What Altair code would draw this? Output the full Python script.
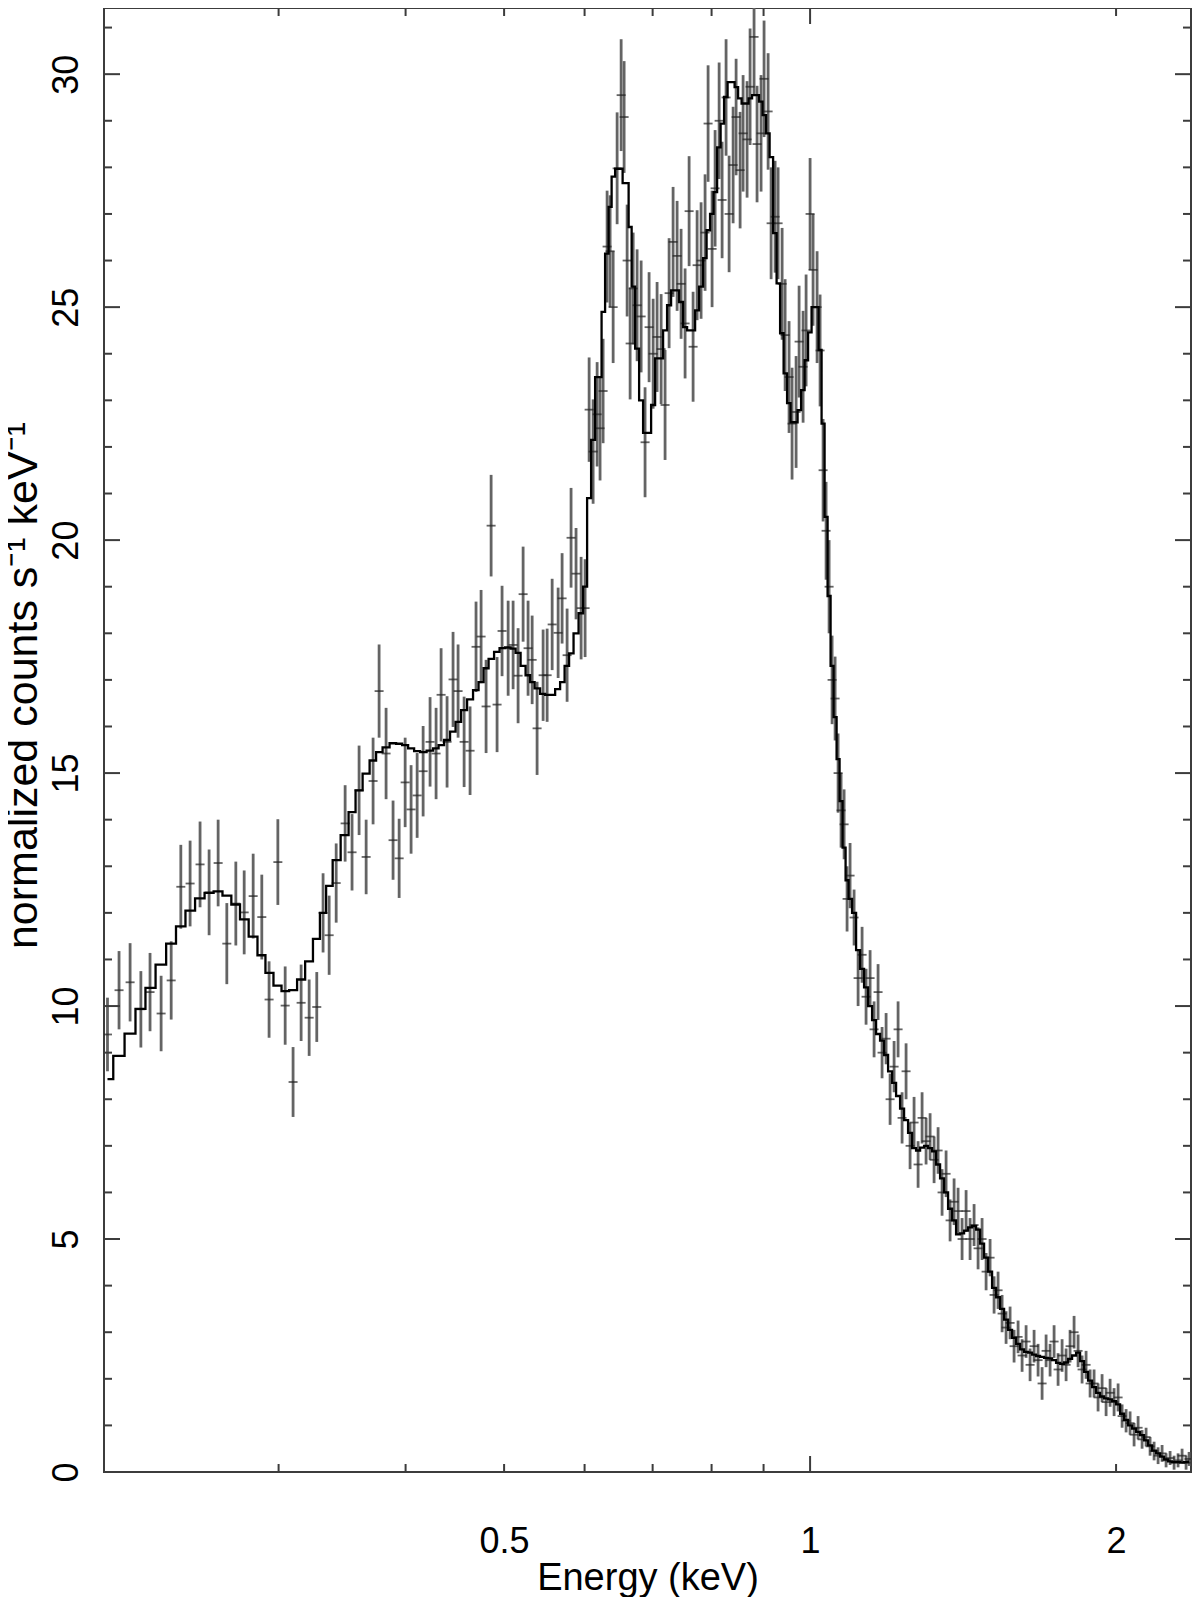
import altair as alt
import pandas as pd

# ---------------- data ----------------
ENERGY = [
    0.2036, 0.2090, 0.2143, 0.2196, 0.2242, 0.2299, 0.2352, 0.2404, 0.2455, 0.2511,
    0.2563, 0.2616, 0.2668, 0.2723, 0.2775, 0.2832, 0.2888, 0.2936, 0.2995, 0.3045,
    0.3100, 0.3157, 0.3215, 0.3271,
    0.3318, 0.3364, 0.3418, 0.3488, 0.3543, 0.3600, 0.3658, 0.3716, 0.3767, 0.3827,
    0.3888, 0.3942, 0.3996, 0.4050, 0.4106, 0.4162, 0.4228, 0.4286, 0.4335, 0.4394,
    0.4454, 0.4505, 0.4567, 0.4629, 0.4692, 0.4746, 0.4800, 0.4855, 0.4921, 0.4977,
    0.5046, 0.5103, 0.5161, 0.5220, 0.5279, 0.5328, 0.5388, 0.5462, 0.5512, 0.5575,
    0.5651, 0.5702, 0.5767, 0.5819, 0.5885, 0.5953, 0.6007,
    0.6062, 0.6117, 0.6173, 0.6214, 0.6257, 0.6314, 0.6357, 0.6401, 0.6459, 0.6518,
    0.6562, 0.6607, 0.6652, 0.6698, 0.6758, 0.6820, 0.6881, 0.6944, 0.7008, 0.7071,
    0.7136, 0.7200, 0.7266, 0.7332, 0.7399, 0.7466, 0.7534, 0.7603, 0.7672, 0.7742,
    0.7812, 0.7883, 0.7937, 0.8009, 0.8064, 0.8138, 0.8193, 0.8267, 0.8324, 0.8400,
    0.8457, 0.8534, 0.8592, 0.8670, 0.8729, 0.8808, 0.8868, 0.8949, 0.9010, 0.9093,
    0.9155, 0.9238, 0.9301, 0.9386, 0.9450, 0.9535, 0.9600, 0.9688, 0.9754, 0.9843,
    0.9910, 1.0000, 1.0068, 1.0160, 1.0229,
    1.0299, 1.0369, 1.0440, 1.0511, 1.0583, 1.0655, 1.0727, 1.0801, 1.0874, 1.0948,
    1.1048, 1.1149, 1.1250, 1.1352, 1.1456, 1.1560, 1.1665, 1.1771, 1.1879, 1.1987,
    1.2096, 1.2206, 1.2317, 1.2429, 1.2542, 1.2656, 1.2772, 1.2888, 1.3005, 1.3124,
    1.3243, 1.3364, 1.3485, 1.3608, 1.3732, 1.3857, 1.3983, 1.4110, 1.4239, 1.4368,
    1.4499, 1.4631, 1.4764, 1.4899, 1.5034, 1.5171, 1.5309, 1.5449, 1.5589, 1.5731,
    1.5874, 1.6019, 1.6165, 1.6312, 1.6460, 1.6610, 1.6761, 1.6914, 1.7068, 1.7223,
    1.7380, 1.7538, 1.7698, 1.7859, 1.8021, 1.8185, 1.8351, 1.8518, 1.8686, 1.8857,
    1.9028, 1.9201, 1.9376, 1.9553, 1.9731, 1.9910, 2.0092, 2.0275, 2.0459, 2.0645,
    2.0833, 2.1023, 2.1214, 2.1407, 2.1602, 2.1799, 2.1997, 2.2197, 2.2399, 2.2603,
    2.2809, 2.3016, 2.3226, 2.3437, 2.3597,
]

COUNTS = [
    9.39, 10.34, 10.51, 9.93, 10.30, 9.84, 10.55, 12.56, 12.63, 13.04,
    12.44, 13.07, 11.34, 12.20, 12.01, 12.36, 11.91, 10.14, 13.09, 10.01,
    8.37, 10.07, 9.75, 9.98,
    12.00, 11.52, 12.64, 13.92, 13.30, 14.63, 13.20, 14.83, 16.76, 15.42,
    13.56, 13.17, 14.80, 14.22, 14.52, 15.04, 15.67, 15.42, 16.68, 15.67,
    17.01, 16.76, 15.67, 15.48, 17.71, 17.93, 16.43, 20.31, 16.47, 18.05,
    17.68, 17.75, 17.09, 18.84, 17.68, 17.43, 15.96, 17.10, 17.10, 18.19,
    18.01, 18.75, 17.53, 20.05, 19.28, 18.54, 18.54,
    22.80, 21.90, 22.70, 22.40, 23.20, 26.30, 26.20, 25.00, 27.98, 29.55,
    29.08, 26.00, 24.22, 25.40, 25.04, 24.80, 22.10, 24.57, 24.00, 24.36,
    24.10, 22.90, 25.30, 26.40, 26.10, 25.50, 24.65, 27.06, 24.15, 25.90,
    26.00, 26.60, 28.94, 26.25, 27.55, 29.00, 27.30, 29.50, 27.00, 28.05,
    29.08, 27.94, 28.73, 28.60, 29.73, 30.80, 28.50, 28.73, 29.90, 29.20,
    26.80, 26.94, 26.80, 25.50, 24.40, 23.50, 22.50, 22.75, 24.26, 23.72,
    24.50, 27.00, 25.80, 25.00, 24.07,
    21.50, 20.20, 19.00, 17.00, 16.60, 15.00, 14.20, 13.90, 12.30, 12.80,
    11.90, 10.60, 11.10, 10.20, 10.60, 9.50, 10.30, 9.00, 9.30, 8.00,
    8.70, 9.50, 7.60, 8.60, 7.00, 7.50, 6.60, 7.60, 7.10, 7.20,
    6.70, 6.90, 6.00, 6.40, 5.40, 5.80, 5.60, 5.00, 5.60, 5.00,
    5.30, 4.80, 5.00, 4.30, 4.60, 3.80, 3.90, 3.40, 3.10, 3.20,
    2.70, 2.90, 2.50, 2.80, 2.30, 2.70, 2.40, 1.90, 2.60, 2.40,
    2.80, 2.20, 2.50, 2.30, 2.70, 3.00, 2.60, 2.20, 2.30, 1.90,
    1.90, 1.60, 1.80, 1.50, 1.70, 1.50, 1.60, 1.20, 1.10, 1.05,
    0.80, 0.95, 0.70, 0.75, 0.55, 0.45, 0.35, 0.40, 0.25, 0.30,
    0.20, 0.25, 0.35, 0.20, 0.28,
]

ERRORS = [
    0.79, 0.84, 0.84, 0.82, 0.84, 0.81, 0.84, 0.90, 0.92, 0.92,
    0.92, 0.93, 0.87, 0.90, 0.90, 0.91, 0.91, 0.82, 0.92, 0.84,
    0.75, 0.82, 0.82, 0.75,
    0.85, 0.85, 0.85, 0.82, 0.82, 0.96, 0.80, 0.93, 1.00, 0.98,
    0.85, 0.85, 0.96, 0.95, 0.91, 0.97, 0.96, 0.98, 1.00, 0.98,
    1.02, 1.00, 0.97, 0.95, 0.97, 1.00, 1.00, 1.09, 1.02, 0.97,
    1.02, 0.95, 1.02, 1.02, 1.02, 0.95, 1.00, 0.98, 1.00, 0.98,
    0.97, 0.97, 1.00, 1.07, 0.98, 1.10, 1.05,
    1.12, 1.12, 1.12, 1.12, 1.12, 1.20, 1.20, 1.20, 1.20, 1.20,
    1.20, 1.20, 1.20, 1.20, 1.20, 1.20, 1.18, 1.18, 1.18, 1.18,
    1.18, 1.18, 1.18, 1.18, 1.18, 1.18, 1.18, 1.18, 1.18, 1.18,
    1.25, 1.25, 1.25, 1.25, 1.25, 1.25, 1.25, 1.25, 1.25, 1.25,
    1.25, 1.25, 1.25, 1.25, 1.25, 1.25, 1.25, 1.25, 1.25, 1.25,
    1.20, 1.20, 1.20, 1.20, 1.20, 1.20, 1.20, 1.20, 1.20, 1.20,
    1.20, 1.20, 1.20, 1.20, 1.20,
    1.10, 1.05, 1.00, 0.95, 0.90, 0.85, 0.80, 0.75, 0.70, 0.70,
    0.60, 0.60, 0.60, 0.60, 0.60, 0.60, 0.60, 0.55, 0.55, 0.55,
    0.55, 0.60, 0.55, 0.60, 0.50, 0.55, 0.50, 0.55, 0.50, 0.50,
    0.50, 0.50, 0.50, 0.50, 0.45, 0.50, 0.50, 0.45, 0.45, 0.45,
    0.45, 0.45, 0.45, 0.40, 0.40, 0.40, 0.40, 0.40, 0.35, 0.35,
    0.35, 0.35, 0.35, 0.35, 0.35, 0.35, 0.35, 0.35, 0.35, 0.35,
    0.35, 0.35, 0.35, 0.35, 0.35, 0.35, 0.35, 0.30, 0.30, 0.30,
    0.30, 0.30, 0.30, 0.30, 0.30, 0.30, 0.30, 0.25, 0.25, 0.25,
    0.25, 0.25, 0.20, 0.20, 0.20, 0.20, 0.18, 0.18, 0.15, 0.15,
    0.15, 0.15, 0.15, 0.15, 0.15,
]

MODEL = [
    8.43, 8.93, 9.41, 9.94, 10.39, 10.89, 11.34, 11.71, 12.05, 12.31,
    12.43, 12.46, 12.37, 12.18, 11.86, 11.49, 11.09, 10.71, 10.44, 10.32,
    10.34, 10.57, 10.96, 11.44,
    12.00, 12.58, 13.13, 13.67, 14.16, 14.63, 14.99, 15.27, 15.45, 15.55,
    15.64, 15.63, 15.60, 15.53, 15.47, 15.45, 15.48, 15.53, 15.60, 15.71,
    15.89, 16.10, 16.35, 16.58, 16.78, 16.95, 17.25, 17.45, 17.60, 17.68,
    17.70, 17.67, 17.58, 17.30, 17.10, 16.95, 16.82, 16.70, 16.68, 16.68,
    16.80, 16.95, 17.30, 17.57, 18.00, 18.43, 19.00,
    20.90, 22.15, 23.50, 23.50, 24.90, 26.15, 27.15, 27.80, 27.97, 27.97,
    27.66, 27.66, 26.72, 25.44, 24.11, 23.00, 22.30, 22.30, 22.90, 23.90,
    23.90, 24.50, 25.04, 25.36, 25.36, 25.11, 24.57, 24.50, 24.50, 24.93,
    25.44, 26.05, 26.65, 27.00, 27.47, 28.43, 28.94, 29.51, 29.83, 29.83,
    29.72, 29.48, 29.37, 29.37, 29.48, 29.55, 29.55, 29.41, 29.12, 28.73,
    28.22, 26.59, 25.51, 24.44, 23.58, 22.94, 22.53, 22.53, 22.79, 23.22,
    23.86, 24.46, 25.00, 25.00, 24.08,
    22.50, 20.50, 18.80, 17.30, 16.20, 15.30, 14.40, 13.40, 12.70, 12.30,
    12.00, 11.20, 10.80, 10.40, 10.00, 9.70, 9.40, 9.26, 8.95, 8.60,
    8.35, 8.07, 7.80, 7.55, 7.28, 6.95, 6.90, 6.96, 7.00, 6.95,
    6.88, 6.60, 6.30, 6.00, 5.65, 5.40, 5.10, 5.12, 5.18, 5.25,
    5.28, 5.20, 4.90, 4.60, 4.30, 3.95, 3.75, 3.50, 3.27, 3.05,
    2.88, 2.75, 2.63, 2.58, 2.56, 2.52, 2.49, 2.47, 2.45, 2.44,
    2.40, 2.34, 2.32, 2.35, 2.43, 2.50, 2.56, 2.38, 2.15, 1.96,
    1.82, 1.70, 1.62, 1.58, 1.56, 1.52, 1.45, 1.25, 1.12, 1.00,
    0.93, 0.86, 0.79, 0.68, 0.57, 0.46, 0.40, 0.33, 0.27, 0.23,
    0.21, 0.21, 0.20, 0.21, 0.22,
]

X_DOMAIN = [0.202, 2.37]
Y_DOMAIN = [0, 31.42]
X_LABEL_VALUES = [0.5, 1, 2]
X_MINOR_TICKS = [0.3, 0.4, 0.5, 0.6, 0.7, 0.8, 0.9, 2]
X_MAJOR_TICKS = [1]
Y_LABEL_VALUES = [0, 5, 10, 15, 20, 25, 30]
Y_MINOR_TICKS = [1, 2, 3, 4, 6, 7, 8, 9, 11, 12, 13, 14, 16, 17, 18, 19,
                 21, 22, 23, 24, 26, 27, 28, 29, 31]
Y_MAJOR_TICKS = [5, 10, 15, 20, 25, 30]

X_TITLE = "Energy (keV)"
Y_TITLE = "normalized counts s\u207b\u00b9 keV\u207b\u00b9"

# ---------------- layout / style ----------------
W, H = 1087, 1464
FONT = "Liberation Sans"
FRAME = "#3c3c3c"
MINOR_LEN, MAJOR_LEN = 8, 16

df = pd.DataFrame({"E": ENERGY, "v": COUNTS, "err": ERRORS, "model": MODEL})

xscale = alt.Scale(type="log", domain=X_DOMAIN, nice=False)
yscale = alt.Scale(domain=Y_DOMAIN, nice=False, zero=False)

xaxis = alt.Axis(values=X_LABEL_VALUES, format="~g", ticks=False, tickSize=0,
                 domain=False, grid=False, labelFontSize=36, labelPadding=52,
                 labelFlush=False, labelOverlap=False, labelColor="black",
                 titleFontSize=38, titleFontWeight="normal", titleColor="black",
                 titleY=106, titleBaseline="middle")
yaxis = alt.Axis(values=Y_LABEL_VALUES, ticks=False, tickSize=0, domain=False,
                 grid=False, labelFontSize=36, labelAngle=270, labelAlign="center",
                 labelBaseline="bottom", labelPadding=19, labelFlush=False,
                 labelOverlap=False, labelColor="black",
                 titleFontSize=43, titleFontWeight="normal", titleColor="black",
                 titleAngle=270, titleAlign="center", titleBaseline="middle",
                 titleX=-81, titleY=677)

def xenc():
    return alt.X("E:Q", scale=xscale, axis=xaxis, title=X_TITLE)

def yenc(field):
    return alt.Y(field, scale=yscale, axis=yaxis, title=Y_TITLE)

base = alt.Chart(df).transform_calculate(
    lo="datum.v - datum.err", hi="datum.v + datum.err"
)

errbars = base.mark_rule(color="#646464", strokeWidth=2.8, clip=True).encode(
    x=xenc(), y=yenc("lo:Q"), y2="hi:Q"
)
centers = base.mark_tick(orient="horizontal", size=9, thickness=1.8,
                         color="#222222", clip=True).encode(
    x=xenc(), y=yenc("v:Q")
)
model = alt.Chart(df).mark_line(interpolate="step", color="black",
                                strokeWidth=2.3, clip=True).encode(
    x=xenc(), y=yenc("model:Q")
)

xminor = alt.Chart(pd.DataFrame({"E": X_MINOR_TICKS}))
xmajor = alt.Chart(pd.DataFrame({"E": X_MAJOR_TICKS}))
yminor = alt.Chart(pd.DataFrame({"v": Y_MINOR_TICKS}))
ymajor = alt.Chart(pd.DataFrame({"v": Y_MAJOR_TICKS}))

tick_layers = []
for src, ln in ((xminor, MINOR_LEN), (xmajor, MAJOR_LEN)):
    tick_layers.append(src.mark_rule(color=FRAME, strokeWidth=2).encode(
        x=xenc(), y=alt.value(H), y2=alt.value(H - ln)))
    tick_layers.append(src.mark_rule(color=FRAME, strokeWidth=2).encode(
        x=xenc(), y=alt.value(0), y2=alt.value(ln)))
for src, ln in ((yminor, MINOR_LEN), (ymajor, MAJOR_LEN)):
    tick_layers.append(src.mark_rule(color=FRAME, strokeWidth=2).encode(
        y=yenc("v:Q"), x=alt.value(0), x2=alt.value(ln)))
    tick_layers.append(src.mark_rule(color=FRAME, strokeWidth=2).encode(
        y=yenc("v:Q"), x=alt.value(W), x2=alt.value(W - ln)))

chart = alt.layer(errbars, centers, model, *tick_layers).properties(
    width=W, height=H,
    padding={"left": 96, "top": 0, "right": 1, "bottom": 125},
    autosize=alt.AutoSizeParams(type="none"),
).configure_view(
    stroke=FRAME, strokeWidth=2
).configure_axis(
    labelFont=FONT, titleFont=FONT
)

chart.save("out.html", embed_options={"renderer": "svg", "actions": False})
